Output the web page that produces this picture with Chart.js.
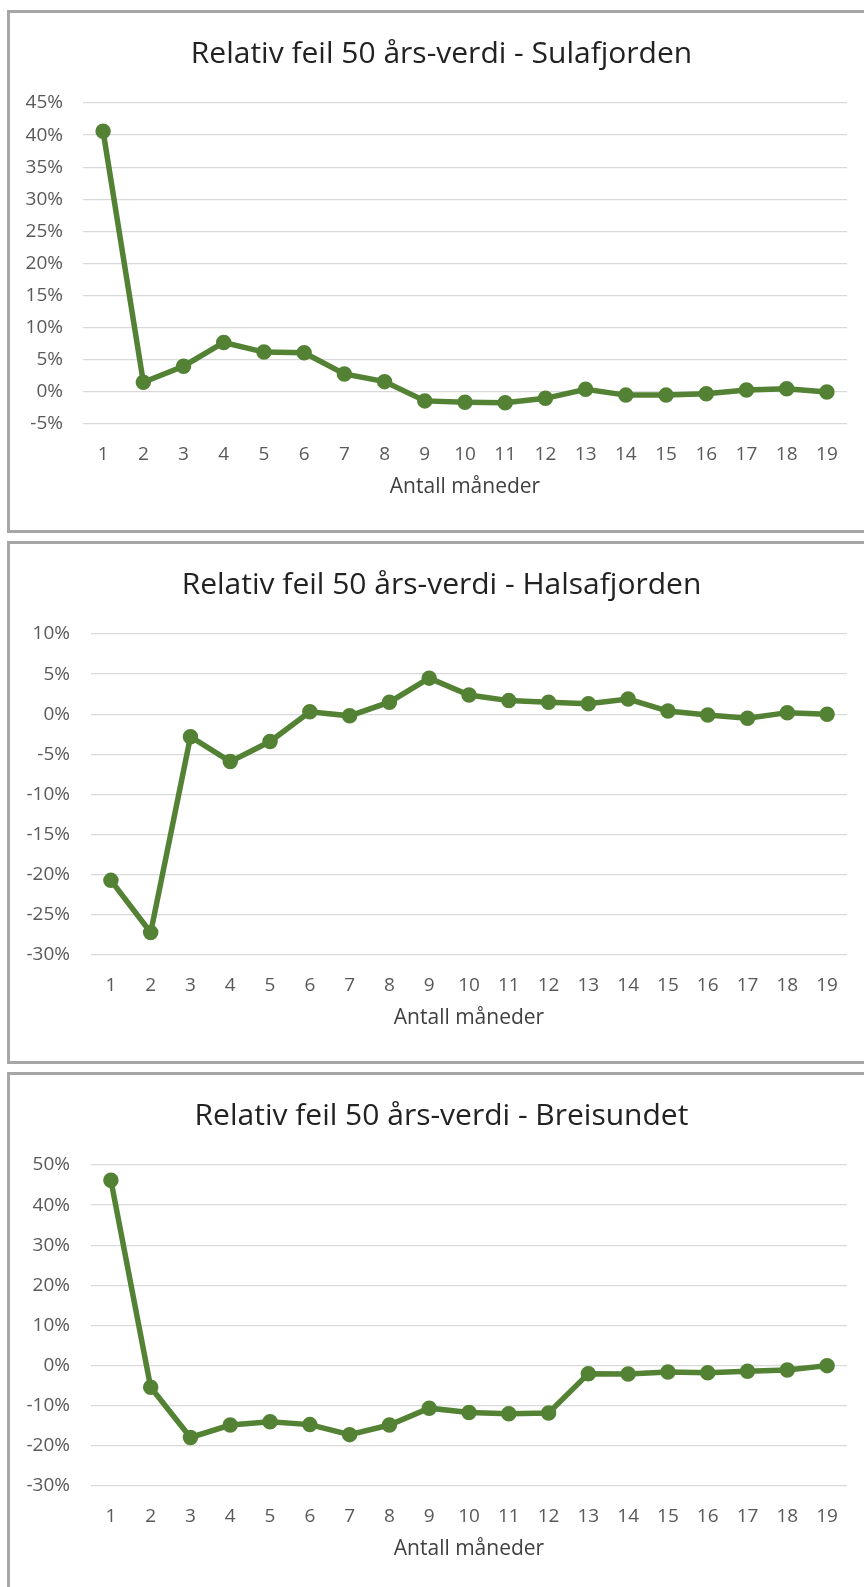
<!DOCTYPE html>
<html>
<head>
<meta charset="utf-8">
<script src="https://cdn.jsdelivr.net/npm/chart.js@4"></script>
<style>
  html,body{margin:0;padding:0;background:#fff;overflow:hidden;}
  body{width:864px;height:1587px;position:relative;}
  .panel{position:absolute;left:7px;width:880px;height:517px;border:3px solid #a6a6a6;background:#fff;}
  .panel canvas{position:absolute;left:14px;top:0;}
</style>
</head>
<body>
<div class="panel" style="top:10px"><canvas id="ch-sula" width="840" height="517"></canvas></div>
<div class="panel" style="top:541px"><canvas id="ch-halsa" width="840" height="517"></canvas></div>
<div class="panel" style="top:1072px"><canvas id="ch-breis" width="840" height="517"></canvas></div>
<script>
// ===================== DATA =====================
const maaneder=['1','2','3','4','5','6','7','8','9','10','11','12','13','14','15','16','17','18','19'];

const sulafjorden=[40.6,1.5,4.0,7.7,6.2,6.1,2.8,1.6,-1.4,-1.6,-1.7,-1.0,0.4,-0.5,-0.5,-0.3,0.3,0.5,0.0];
const halsafjorden=[-20.7,-27.2,-2.8,-5.9,-3.4,0.3,-0.2,1.5,4.5,2.4,1.7,1.5,1.3,1.9,0.4,-0.1,-0.5,0.2,0.0];
const breisundet=[46.2,-5.4,-17.9,-14.8,-14.0,-14.7,-17.2,-14.8,-10.6,-11.7,-12.0,-11.8,-2.0,-2.1,-1.6,-1.8,-1.4,-1.1,0.0];

const yMinSula=-5, yMaxSula=45, yStepSula=5;
const yMinHalsa=-30, yMaxHalsa=10, yStepHalsa=5;
const yMinBreis=-30, yMaxBreis=50, yStepBreis=10;

const tittelPrefix='Relativ feil 50 års-verdi - ';
const xTittel='Antall måneder';

// ===================== CHARTS =====================
const FONT='"Open Sans", "Liberation Sans", sans-serif';
const GREEN='#548235';

// y-etikettene får gå ut i venstre padding (ellers klippes de)
const ikkeKlipp={id:'ikkeKlipp',afterLayout(c){c.scales.y.left=0;}};

function lagGraf(id,navn,verdier,yMin,yMax,yStep,yBredde,yPad){
  const el=document.getElementById(id);
  return new Chart(el,{type:'line',
    data:{labels:maaneder,datasets:[{
      label:navn,data:verdier,borderColor:GREEN,backgroundColor:GREEN,
      borderWidth:5.5,pointRadius:5,pointHoverRadius:5,pointBackgroundColor:GREEN,pointBorderColor:GREEN,
      tension:0,fill:false
    }]},
    options:{responsive:false,animation:false,devicePixelRatio:1,
      layout:{padding:{left:12,right:17,top:0,bottom:30}},
      plugins:{
        legend:{display:false},tooltip:{enabled:false},
        title:{display:true,text:tittelPrefix+navn,color:'#222',
          font:{family:FONT,size:30,weight:'normal'},padding:{top:23,bottom:31}}
      },
      scales:{
        x:{type:'category',offset:true,
          grid:{display:false,drawTicks:false},border:{display:false},
          ticks:{color:'#595959',font:{family:FONT,size:19},padding:19,maxRotation:0,autoSkip:false},
          title:{display:true,text:xTittel,color:'#404040',font:{family:FONT,size:21},padding:{top:-10,bottom:0}}
        },
        y:{min:yMin,max:yMax,
          grid:{color:'#d9d9d9',lineWidth:1.3,drawTicks:false},border:{display:false},
          ticks:{stepSize:yStep,color:'#595959',font:{family:FONT,size:19},padding:yPad,callback:v=>v+'%'},
          afterFit:s=>{s.width=yBredde;}
        }
      }
    },
    plugins:[ikkeKlipp]
  });
}

lagGraf('ch-sula','Sulafjorden',sulafjorden,yMinSula,yMaxSula,yStepSula,47,20);
lagGraf('ch-halsa','Halsafjorden',halsafjorden,yMinHalsa,yMaxHalsa,yStepHalsa,55,21);
lagGraf('ch-breis','Breisundet',breisundet,yMinBreis,yMaxBreis,yStepBreis,55,21);
</script>
</body>
</html>
